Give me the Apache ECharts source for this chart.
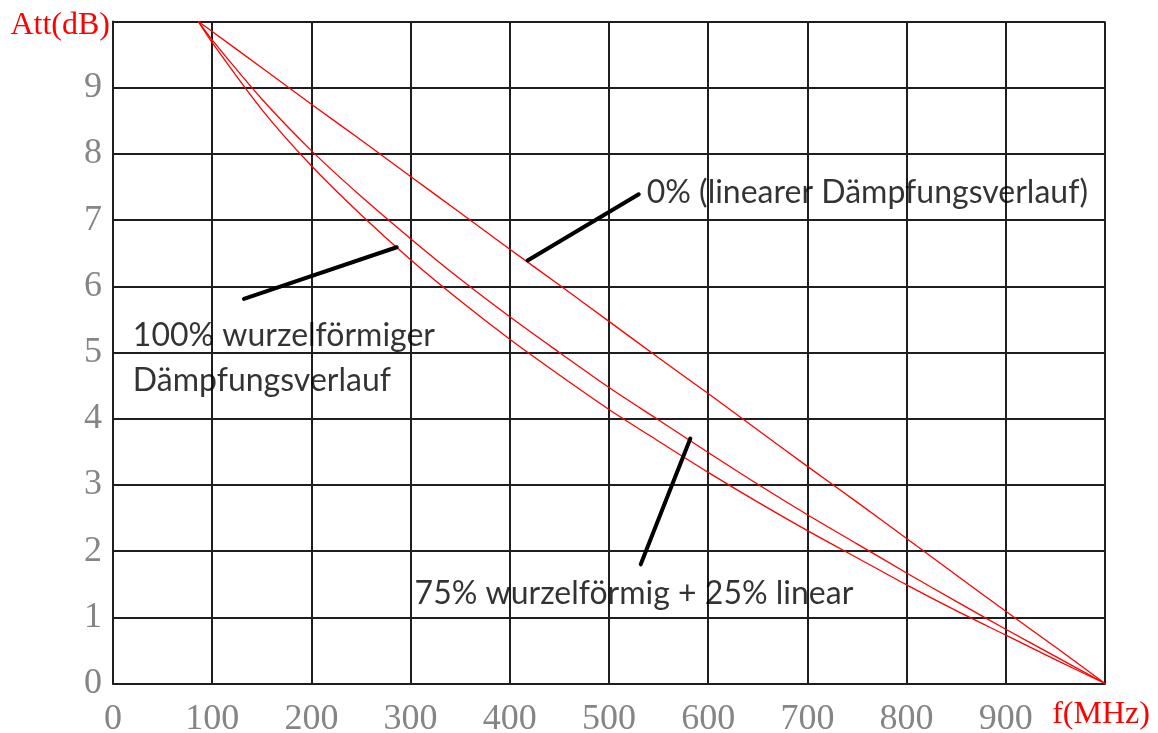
<!DOCTYPE html>
<html>
<head>
<meta charset="utf-8">
<script src="https://cdn.jsdelivr.net/npm/echarts@6/dist/echarts.min.js"></script>
<style>
  html, body { margin: 0; padding: 0; background: #fff; }
  #chart { width: 1158px; height: 733px; }
</style>
</head>
<body>
<div id="chart"></div>
<script>
// Frequency points (MHz) where the equalizer curves are sampled
const freqs = [86, 100, 150, 200, 250, 300, 350, 400, 450, 500, 550, 600, 650, 700, 750, 800, 850, 900, 950, 1000];

// Attenuation (dB) for each slope shape
const attLinear = [10, 9.85, 9.30, 8.75, 8.21, 7.66, 7.11, 6.56, 6.02, 5.47, 4.92, 4.38, 3.83, 3.28, 2.74, 2.19, 1.64, 1.09, 0.55, 0];
const attMix = [10, 9.72, 8.83, 8.05, 7.36, 6.72, 6.11, 5.54, 5.00, 4.47, 3.98, 3.49, 3.01, 2.55, 2.11, 1.67, 1.24, 0.82, 0.41, 0];
const attSqrt = [10, 9.68, 8.67, 7.82, 7.08, 6.40, 5.78, 5.20, 4.66, 4.14, 3.66, 3.19, 2.74, 2.31, 1.90, 1.49, 1.10, 0.73, 0.36, 0];

// Axis ticks
const xTicks = [0, 100, 200, 300, 400, 500, 600, 700, 800, 900];
const yTicks = [0, 1, 2, 3, 4, 5, 6, 7, 8, 9];

// Annotation pointers: [from, to] in (MHz, dB)
const pointerLinear = [[418, 6.39], [530, 7.39]];
const pointerSqrt = [[132, 5.81], [286, 6.59]];
const pointerMix = [[532, 1.80], [582, 3.70]];

// Annotation texts anchored at their left edge (MHz, dB)
const notes = [
  [538, 7.41, '0% (linearer Dämpfungsverlauf)'],
  [20, 5.25, '100% wurzelförmiger'],
  [20, 4.57, 'Dämpfungsverlauf'],
  [304, 1.35, '75% wurzelförmig + 25% linear']
];

const zip = (xs, ys) => xs.map((x, i) => [x, ys[i]]);

const gridColor = '#1e1e1e';
const curveStyle = { color: '#ff0000', width: 1.3 };

function curve(name, ys) {
  return {
    name, type: 'line', data: zip(freqs, ys), showSymbol: false, smooth: 0.3,
    lineStyle: curveStyle, silent: true, z: 4
  };
}
function pointer(pts) {
  return {
    type: 'line', data: pts, showSymbol: false,
    lineStyle: { color: '#000', width: 4, cap: 'round' }, silent: true, z: 5
  };
}

const chart = echarts.init(document.getElementById('chart'), null, { renderer: 'canvas' });
chart.setOption({
  animation: false,
  backgroundColor: '#fff',
  grid: {
    left: 113, right: 53, top: 21.5, bottom: 49.5,
    containLabel: false, outerBoundsMode: 'none'
  },
  xAxis: {
    type: 'value', min: 0, max: 1000, interval: 100,
    name: 'f(MHz)', nameLocation: 'end', nameGap: -4,
    nameTextStyle: {
      fontFamily: 'Liberation Serif', fontSize: 32, color: '#ff0000',
      align: 'center', verticalAlign: 'top', lineHeight: 62
    },
    axisLine: { show: true, lineStyle: { color: gridColor, width: 2 } },
    axisTick: { show: false },
    splitLine: { show: true, lineStyle: { color: gridColor, width: 2 } },
    axisLabel: {
      margin: 18, fontFamily: 'Liberation Serif', fontSize: 36, color: '#858585',
      formatter: v => (xTicks.includes(v) ? String(v) : '')
    }
  },
  yAxis: {
    type: 'value', min: 0, max: 10, interval: 1,
    name: 'Att(dB)', nameLocation: 'end', nameGap: -4,
    nameTextStyle: {
      fontFamily: 'Liberation Serif', fontSize: 32, color: '#ff0000',
      align: 'right', verticalAlign: 'middle', padding: [0, 3, 0, 0]
    },
    axisLine: { show: true, lineStyle: { color: gridColor, width: 2 } },
    axisTick: { show: false },
    splitLine: { show: true, lineStyle: { color: gridColor, width: 2 } },
    axisLabel: {
      margin: 11, fontFamily: 'Liberation Serif', fontSize: 36, color: '#858585',
      formatter: v => (yTicks.includes(v) ? String(v) : '')
    }
  },
  series: [
    curve('0% linear', attLinear),
    curve('75% wurzelförmig + 25% linear', attMix),
    curve('100% wurzelförmig', attSqrt),
    pointer(pointerLinear),
    pointer(pointerSqrt),
    pointer(pointerMix),
    {
      type: 'scatter', data: notes, symbolSize: 0, silent: true, z: 6,
      label: {
        show: true, position: 'right', distance: 0,
        formatter: p => p.data[2],
        fontFamily: 'Lato', fontSize: 32, color: '#000'
      }
    }
  ]
});
</script>
</body>
</html>
